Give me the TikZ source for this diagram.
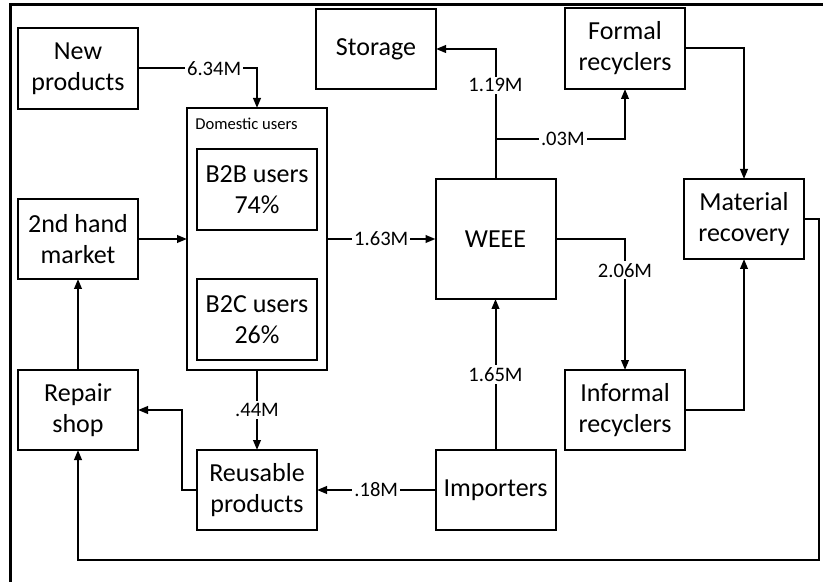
\documentclass[tikz,border=0pt]{standalone}
\usepackage{fontspec}
\setmainfont{Carlito}
\usepackage{tikz}
\usetikzlibrary{arrows.meta, positioning, calc}

\begin{document}
\begin{tikzpicture}[x=0.5pt, y=-0.5pt,
  box/.style={draw, line width=1pt, minimum width=60pt, minimum height=40pt,
    inner sep=0pt, outer sep=0pt, align=center, font=\fontsize{13}{15.5}\selectfont},
  flow/.style={line width=1pt, -{Triangle[length=5pt, width=3.8pt]}},
  link/.style={line width=1pt},
  lbl/.style={fill=white, inner sep=1pt, font=\fontsize{10.3}{12}\selectfont}]
  \useasboundingbox (0,0) rectangle (823,582);

  % Frame (cut at right and bottom)
  \draw[line width=1.5pt] (10,582) -- (10,5) -- (823,5);

  % Left column
  \node[box, minimum height=40.5pt] (newp) at (78,68.5) {New\\products};
  \node[box] (second) at (78,239) {2nd hand\\market};
  \node[box] (repair) at (78,410) {Repair\\shop};

  % Domestic users
  \node[box, minimum width=70pt, minimum height=131pt] (domestic) at (257,239) {};
  \node[anchor=west, inner sep=0pt, font=\fontsize{8.3}{10}\selectfont] (domlabel) at (195,124) {Domestic users};
  \node[box, minimum height=40.5pt] (b2b) at (257,189.5) {B2B users\\74\%};
  \node[box, minimum height=40.5pt] (b2c) at (257,319.5) {B2C users\\26\%};
  \node[box] (reuse) at (257,490) {Reusable\\products};

  % Middle column
  \node[box] (storage) at (376,49) {Storage};
  \node[box, minimum height=60pt] (weee) at (495.5,239) {WEEE};
  \node[box] (importers) at (495.5,490) {Importers};

  % Right columns
  \node[box, minimum height=40.5pt] (formal) at (625,48.5) {Formal\\recyclers};
  \node[box] (informal) at (625,410) {Informal\\recyclers};
  \node[box] (material) at (744,219) {Material\\recovery};

  % Flows into users
  \draw[flow] (newp.east) -| node[lbl, pos=0.32] {6.34M} (domestic.north);
  \draw[flow] (second.east) -- (domestic.west);
  \draw[flow] (repair.north) -- (second.south);
  \draw[flow] (domestic.east) -- node[lbl] {1.63M} (weee.west);
  \draw[flow] (domestic.south) -- node[lbl] {.44M} (reuse.north);
  \draw[flow] (reuse.west) -- ++(-15,0) |- (repair.east);
  \draw[flow] (importers.west) -- node[lbl] {.18M} (reuse.east);
  \draw[flow] (importers.north) -- node[lbl] {1.65M} (weee.south);

  % Flows out of WEEE
  \draw[flow] (weee.north) |- node[lbl, pos=0.36] {1.19M} (storage.east);
  \coordinate (split) at ($(weee.north)+(0,-40)$);
  \draw[flow] (split) -| node[lbl, pos=0.26] {.03M} (formal.south);
  \draw[flow] (weee.east) -| node[lbl, pos=0.62] {2.06M} (informal.north);

  % Recyclers to material recovery
  \draw[flow] (formal.east) -| (material.north);
  \draw[flow] (informal.east) -| (material.south);

  % Back to repair shop
  \coordinate (back) at (78,560);
  \draw[flow] (material.east) -- ++(15,0) |- (back) -- (repair.south);
\end{tikzpicture}
\end{document}
